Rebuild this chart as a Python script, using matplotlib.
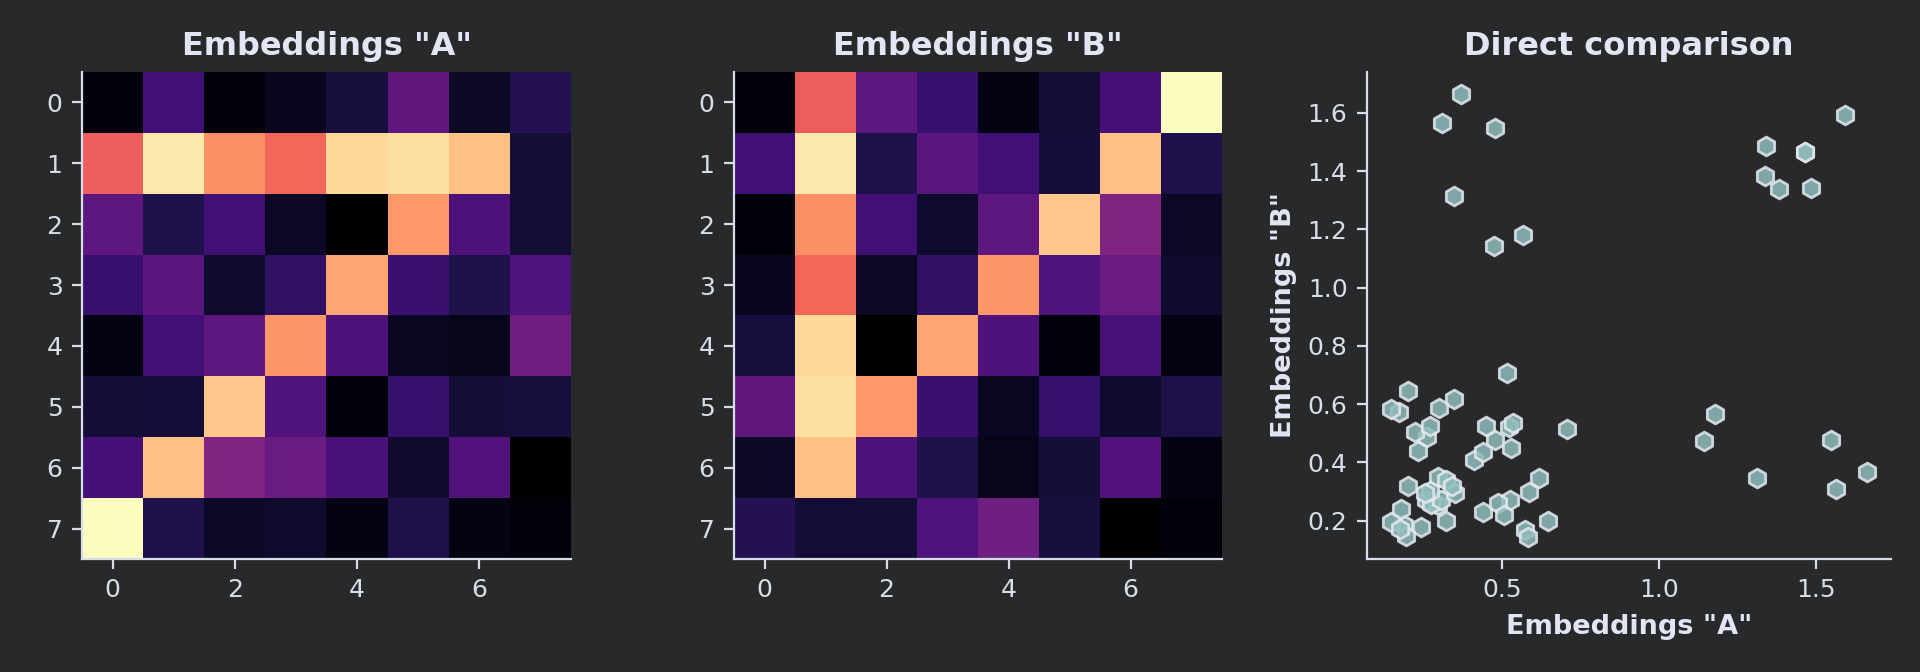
import numpy as np
import matplotlib
matplotlib.use("Agg")
import matplotlib.pyplot as plt

# ---- data ----
emb_a = [
    [0.185, 0.473, 0.169, 0.230, 0.319, 0.585, 0.260, 0.367],
    [1.144, 1.594, 1.313, 1.180, 1.548, 1.565, 1.466, 0.295],
    [0.573, 0.347, 0.476, 0.256, 0.144, 1.342, 0.515, 0.293],
    [0.438, 0.565, 0.271, 0.409, 1.384, 0.449, 0.347, 0.524],
    [0.199, 0.476, 0.583, 1.337, 0.522, 0.239, 0.220, 0.644],
    [0.297, 0.307, 1.486, 0.526, 0.178, 0.437, 0.303, 0.320],
    [0.486, 1.466, 0.706, 0.616, 0.505, 0.270, 0.535, 0.146],
    [1.664, 0.349, 0.252, 0.269, 0.198, 0.340, 0.194, 0.172],
]
emb_b = [
    [0.185, 1.144, 0.573, 0.438, 0.199, 0.297, 0.486, 1.664],
    [0.473, 1.594, 0.347, 0.565, 0.476, 0.307, 1.466, 0.349],
    [0.169, 1.313, 0.476, 0.271, 0.583, 1.486, 0.706, 0.252],
    [0.230, 1.180, 0.256, 0.409, 1.337, 0.526, 0.616, 0.269],
    [0.319, 1.548, 0.144, 1.384, 0.522, 0.178, 0.505, 0.198],
    [0.585, 1.565, 1.342, 0.449, 0.239, 0.437, 0.270, 0.340],
    [0.260, 1.466, 0.515, 0.347, 0.220, 0.303, 0.535, 0.194],
    [0.367, 0.295, 0.293, 0.524, 0.644, 0.320, 0.146, 0.172],
]
titles = ['Embeddings "A"', 'Embeddings "B"', 'Direct comparison']
xlabel = 'Embeddings "A"'
ylabel = 'Embeddings "B"'

BG = '#28292b'
FG = '#d8dee9'
TITLE = '#e2e6f4'

plt.rcParams.update({
    'figure.facecolor': BG,
    'axes.facecolor': BG,
    'axes.edgecolor': FG,
    'xtick.color': FG,
    'ytick.color': FG,
    'text.color': TITLE,
    'axes.labelcolor': TITLE,
    'font.family': ['DejaVu Sans'],
})

fig = plt.figure(figsize=(9.6, 3.36), dpi=200)
W, H = 1920.0, 672.0
def box(x0, x1, y0, y1):
    return [x0 / W, 1 - y1 / H, (x1 - x0) / W, (y1 - y0) / H]

ax_a = fig.add_axes(box(82, 571, 72, 559))
ax_b = fig.add_axes(box(734, 1222, 72, 559))
ax_s = fig.add_axes(box(1367, 1891, 72, 559))

for ax, mat, t in [(ax_a, emb_a, titles[0]), (ax_b, emb_b, titles[1])]:
    ax.imshow(np.array(mat), cmap='magma', aspect='auto')
    ax.set_xticks([0, 2, 4, 6])
    ax.set_yticks(range(8))
    ax.set_title(t, fontsize=11.5, fontweight='bold', color=TITLE)

xa = np.array(emb_a).ravel()
yb = np.array(emb_b).ravel()
ax_s.scatter(xa, yb, marker='h', s=46, facecolor='#8fbcbb', edgecolor='#e5e9f0',
             linewidths=1.0, alpha=0.85)
ax_s.set_title(titles[2], fontsize=11.5, fontweight='bold', color=TITLE)
ax_s.set_xlabel(xlabel, fontsize=9.75, fontweight='bold')
ax_s.set_ylabel(ylabel, fontsize=9.75, fontweight='bold')
ax_s.set_xticks([0.5, 1.0, 1.5])
ax_s.set_yticks([0.2, 0.4, 0.6, 0.8, 1.0, 1.2, 1.4, 1.6])

for ax in (ax_a, ax_b, ax_s):
    ax.spines['top'].set_visible(False)
    ax.spines['right'].set_visible(False)
    for s in ('left', 'bottom'):
        ax.spines[s].set_color(FG)
        ax.spines[s].set_linewidth(0.8)
    ax.tick_params(labelsize=9.0, colors=FG, length=3.5, width=0.8)

fig.savefig('out.png', dpi=200, facecolor=BG)
